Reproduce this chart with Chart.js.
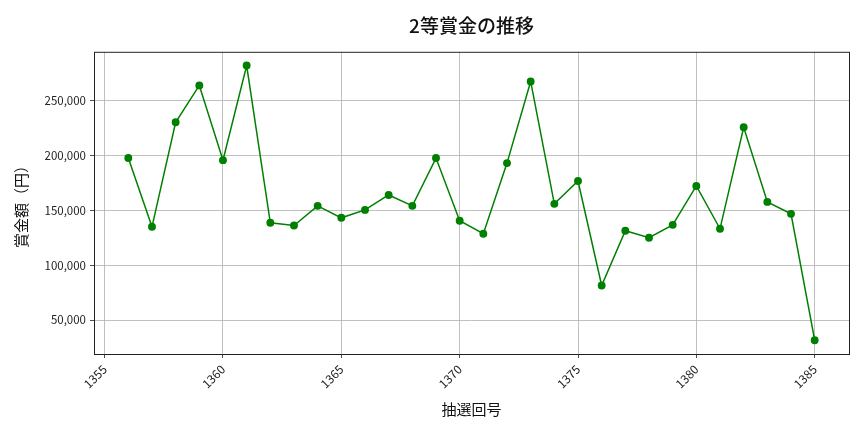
<!DOCTYPE html>
<html>
<head>
<meta charset="utf-8">
<script src="https://cdn.jsdelivr.net/npm/chart.js@4/dist/chart.umd.min.js"></script>
<style>
  html, body { margin: 0; padding: 0; background: #fff; }
  #wrap { width: 864px; height: 432px; }
</style>
</head>
<body>
<div id="wrap"><canvas id="chart" width="864" height="432"></canvas></div>
<script>
const rounds = [1356, 1357, 1358, 1359, 1360, 1361, 1362, 1363, 1364, 1365,
                1366, 1367, 1368, 1369, 1370, 1371, 1372, 1373, 1374, 1375,
                1376, 1377, 1378, 1379, 1380, 1381, 1382, 1383, 1384, 1385];
const prizes = [197500, 134900, 230100, 263600, 195600, 281700, 138600, 136100, 154000, 143100,
                150300, 163900, 154000, 197500, 140400, 128600, 192900, 267200, 155800, 176600,
                81500, 131300, 125000, 136700, 172100, 133100, 225500, 157600, 146700, 31700];
const xTicks = [1355, 1360, 1365, 1370, 1375, 1380, 1385];
const yTicks = [50000, 100000, 150000, 200000, 250000];

const FONT = "'Noto Sans CJK JP', 'Noto Sans', sans-serif";

// matplotlib-style box around the plot area
const frame = {
    id: 'frame',
    afterDraw(chart) {
        const { ctx, chartArea: a } = chart;
        ctx.save();
        ctx.strokeStyle = '#222';
        ctx.lineWidth = 1;
        ctx.strokeRect(a.left + 0.5, a.top + 0.5, a.right - a.left, a.bottom - a.top);
        ctx.restore();
    }
};

new Chart(document.getElementById('chart'), {
    type: 'line',
    data: {
        datasets: [{
            label: '2等賞金',
            data: rounds.map((r, i) => ({ x: r, y: prizes[i] })),
            borderColor: '#008000',
            backgroundColor: '#008000',
            borderWidth: 1.5,
            pointRadius: 3.2,
            pointHoverRadius: 3.2,
            tension: 0,
        }]
    },
    options: {
        responsive: false,
        animation: false,
        devicePixelRatio: 1,
        layout: { padding: { left: 12, right: 15, top: 12, bottom: 14 } },
        plugins: {
            legend: { display: false },
            tooltip: { enabled: false },
            title: {
                display: true,
                fullSize: false,
                text: '2等賞金の推移',
                color: '#111',
                font: { family: FONT, size: 19, weight: 500 },
                padding: { top: 2, bottom: 15 }
            }
        },
        scales: {
            x: {
                type: 'linear',
                min: 1354.55,
                max: 1386.45,
                afterBuildTicks: s => { s.ticks = xTicks.map(v => ({ value: v })); },
                afterFit: s => { s.height = 64; },
                grid: { color: '#b0b0b0', lineWidth: 0.8, tickColor: '#222', tickLength: 4 },
                border: { display: false },
                ticks: {
                    color: '#222',
                    minRotation: 45,
                    maxRotation: 45,
                    padding: 4,
                    font: { family: FONT, size: 12 },
                    callback: v => String(v)
                },
                title: {
                    display: true,
                    text: '抽選回号',
                    color: '#111',
                    font: { family: FONT, size: 15 },
                    padding: { top: 0, bottom: 0 }
                }
            },
            y: {
                type: 'linear',
                min: 19150,
                max: 294200,
                afterBuildTicks: s => { s.ticks = yTicks.map(v => ({ value: v })); },
                afterFit: s => { s.width = 82; },
                grid: { color: '#b0b0b0', lineWidth: 0.8, tickColor: '#222', tickLength: 4 },
                border: { display: false },
                ticks: {
                    color: '#222',
                    padding: 4,
                    font: { family: FONT, size: 11.5 },
                    callback: v => v.toLocaleString('en-US')
                },
                title: {
                    display: true,
                    text: '賞金額（円）',
                    color: '#111',
                    font: { family: FONT, size: 15 },
                    padding: { top: 0, bottom: 4 }
                }
            }
        }
    },
    plugins: [frame]
});
</script>
</body>
</html>
